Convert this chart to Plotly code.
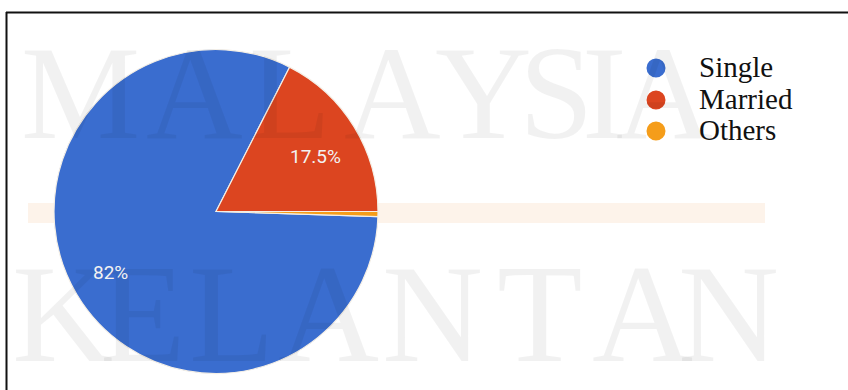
import plotly.graph_objects as go

categories = ["Single", "Married", "Others"]
values = [82, 17.5, 0.5]
colors = ["#3a6dcf", "#dc4520", "#f59d1a"]
watermark_words = ["MALAYSIA", "KELANTAN"]

W, H = 848, 390
cx, cy, r = 216, 211.5, 162

fig = go.Figure()

fig.add_trace(go.Pie(
    labels=categories, values=values, sort=False, direction="clockwise",
    rotation=91.8, marker=dict(colors=colors, line=dict(color="#f4efe6", width=1.2)),
    textinfo="none", hoverinfo="label+percent", showlegend=False,
    domain=dict(x=[(cx - r) / W, (cx + r) / W], y=[(H - cy - r) / H, (H - cy + r) / H]),
))


def px_x(v):
    return v / W


def px_y(v):
    return 1 - v / H


# watermark letters (drawn first, faint)
wm_layout = [
    (93, 134, [80, 194, 290, 392, 483, 556, 604, 664]),
    (313, 140, [62, 143, 232, 328, 432, 540, 642, 728]),
]
for word, (wy, fsize, xs) in zip(watermark_words, wm_layout):
    for ch, lx in zip(word, xs):
        fig.add_annotation(x=px_x(lx), y=px_y(wy), xref="paper", yref="paper",
                           text=ch, showarrow=False, xanchor="center", yanchor="middle",
                           font=dict(family="Liberation Serif, Times New Roman, serif",
                                     size=fsize, color="rgba(0,0,0,0.055)"))

# slice labels
label_pos = {"Single": (110, 272), "Married": (315, 156)}
for name, v in zip(categories, values):
    if name in label_pos:
        lx, ly = label_pos[name]
        fig.add_annotation(x=px_x(lx), y=px_y(ly), xref="paper", yref="paper",
                           text=f"{v:g}%", showarrow=False, xanchor="center", yanchor="middle",
                           font=dict(family="Roboto, Arial", size=19, color="#f2f2f2"))

# manual legend (circle markers + serif text)
legend_rows = [68, 100, 131]
for name, col, ry in zip(categories, colors, legend_rows):
    fig.add_shape(type="circle", xref="paper", yref="paper",
                  x0=px_x(656 - 9.5), x1=px_x(656 + 9.5), y0=px_y(ry + 9.5), y1=px_y(ry - 9.5),
                  fillcolor=col, line=dict(width=0), layer="above")
    fig.add_annotation(x=px_x(697), y=px_y(ry - 1), xref="paper", yref="paper",
                       text=name, showarrow=False, xanchor="left", yanchor="middle",
                       font=dict(family="Liberation Serif, Times New Roman, serif",
                                 size=29, color="#111"))

shapes = [
    dict(type="rect", xref="paper", yref="paper", x0=px_x(28), x1=px_x(765),
         y0=px_y(223), y1=px_y(203), fillcolor="#fdf3ea", line=dict(width=0), layer="below"),
    dict(type="line", xref="paper", yref="paper", x0=px_x(6), x1=1, y0=px_y(12.5), y1=px_y(12.5),
         line=dict(color="#111", width=2)),
    dict(type="line", xref="paper", yref="paper", x0=px_x(6.5), x1=px_x(6.5), y0=0, y1=px_y(12),
         line=dict(color="#111", width=2)),
]
for s in shapes:
    fig.add_shape(**s)

fig.update_layout(
    width=W, height=H, margin=dict(l=0, r=0, t=0, b=0),
    paper_bgcolor="white", plot_bgcolor="white", showlegend=False,
)

fig.write_html("out.html")
